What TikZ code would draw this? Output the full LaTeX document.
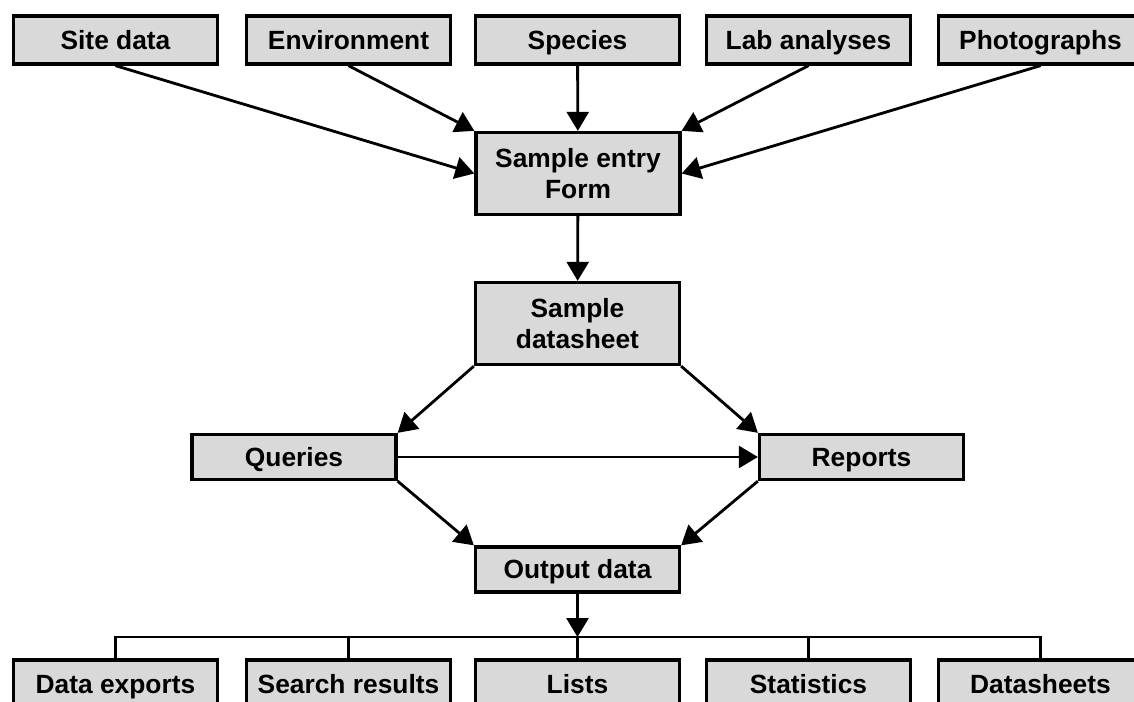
\documentclass[tikz,border=0pt]{standalone}
\usepackage{fontspec}
\setmainfont{Liberation Sans}
\usetikzlibrary{arrows.meta}
\definecolor{boxgray}{RGB}{217,217,217}
\tikzset{
  box/.style={draw, line width=1.9pt, fill=boxgray, align=center, inner sep=2pt,
    minimum width=4.08cm, minimum height=0.96cm,
    font=\bfseries\fontsize{15}{18}\selectfont},
  single/.style={text height=14.4pt, text depth=3.75pt},
  tall/.style={minimum height=1.64cm},
  flat/.style={single, minimum height=0.9cm},
  arr/.style={-{Triangle[length=0.38cm,width=0.44cm]}, line width=1.6pt},
  line/.style={line width=1.6pt}
}
\begin{document}
\begin{tikzpicture}[x=0.02cm,y=-0.02cm]
        \useasboundingbox (0,0) rectangle (1134,702);
        \clip (0,0) rectangle (1134,702);
        % sources
        \node[box,single] (site) at (115.5,40) {Site data};
        \node[box,single] (env) at (348.5,40) {Environment};
        \node[box,single] (spec) at (577.5,40) {Species};
        \node[box,single] (lab) at (808.5,40) {Lab analyses};
        \node[box,single] (photo) at (1040.5,40) {Photographs};
        % middle
        \node[box,tall] (form) at (578,173.5) {Sample entry\\Form};
        \node[box,tall] (sheet) at (577.5,323.5) {Sample\\datasheet};
        \node[box,flat] (query) at (294,457) {Queries};
        \node[box,flat] (report) at (861.5,457) {Reports};
        \node[box,flat] (output) at (577.5,569.5) {Output data};
        % results
        \node[box,single] (exports) at (115.5,684) {Data exports};
        \node[box,single] (search) at (348.5,684) {Search results};
        \node[box,single] (lists) at (577.5,684) {Lists};
        \node[box,single] (stats) at (808.5,684) {Statistics};
        \node[box,single] (sheets) at (1040.5,684) {Datasheets};
        \coordinate (split) at (577.5,637);
        % connectors
        \draw[arr] (site.south) -- (form.west);
        \draw[arr] (env.south) -- (form.north west);
        \draw[arr] (spec) -- (form);
        \draw[arr] (lab.south) -- (form.north east);
        \draw[arr] (photo.south) -- (form.east);
        \draw[arr] (form) -- (sheet);
        \draw[arr] (sheet.south west) -- (query.north east);
        \draw[arr] (sheet.south east) -- (report.north west);
        \draw[arr] (query) -- (report);
        \draw[arr] (query.south east) -- (output.north west);
        \draw[arr] (report.south west) -- (output.north east);
        \draw[arr] (output) -- (split);
        \draw[line] (exports.north) |- (split) -| (sheets.north);
        \draw[line] (search.north) -- (search.north |- split);
        \draw[line] (lists.north) -- (split);
        \draw[line] (stats.north) -- (stats.north |- split);
    \end{tikzpicture}
\end{document}
